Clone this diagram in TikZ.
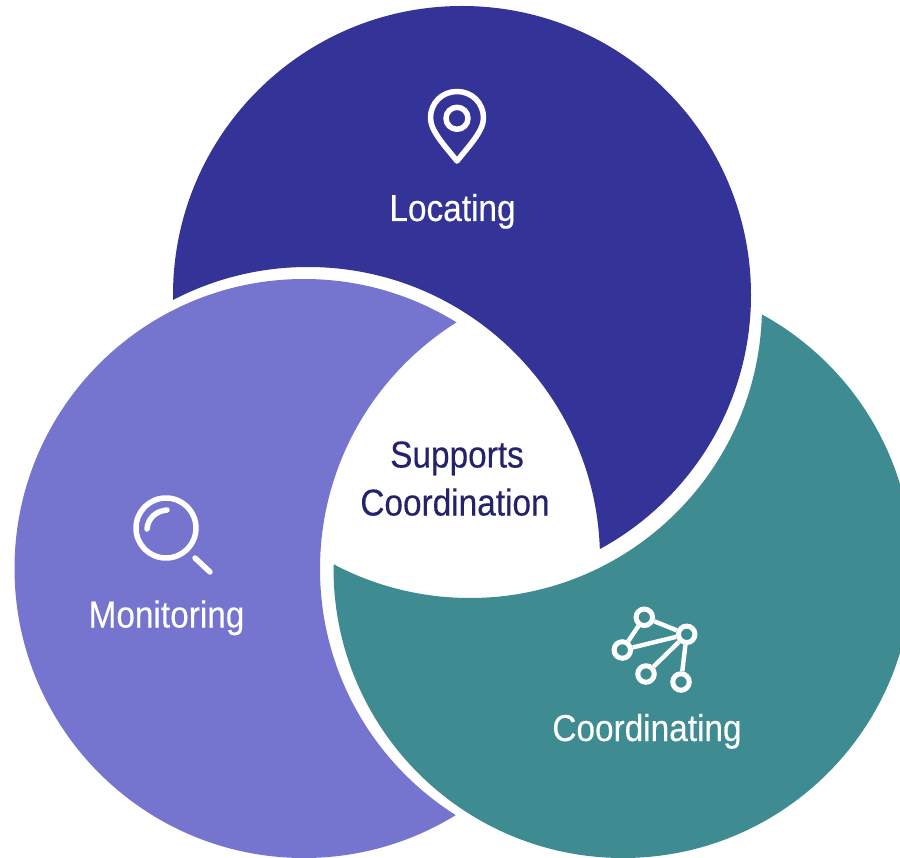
\documentclass[tikz,border=0pt]{standalone}
\usepackage{fontspec}
\setmainfont[FakeStretch=0.89,FakeBold=0.25]{Liberation Sans}
\definecolor{darkblue}{HTML}{343398}
\definecolor{lilac}{HTML}{7575CF}
\definecolor{tealc}{HTML}{3E8B92}
\definecolor{inktext}{HTML}{23226B}
\tikzset{
  lbl/.style={anchor=base,inner sep=0pt,text=white,font=\fontsize{37.5}{37.5}\selectfont},
  midlbl/.style={lbl,text=inktext},
  ico/.style={draw=white,line width=5.5pt,line cap=round,line join=round},
  dot/.style={circle,draw=white,line width=5pt,minimum size=16.5pt,inner sep=0pt},
  wire/.style={draw=white,line width=4.4pt}
}
\begin{document}
\begin{tikzpicture}[x=1pt,y=-1pt]
\useasboundingbox (0,0) rectangle (900,858);
\fill[white] (0,0) rectangle (900,858);
\clip (0,0) rectangle (900,858);
% top circle, cut by the left one
\begin{scope}[even odd rule]
\clip (-100,-100) rectangle (1100,1100) (308,559) circle[radius=292pt];
\fill[darkblue] (462,295) circle[radius=289pt];
\end{scope}
% left circle, cut by the right one
\begin{scope}[even odd rule]
\clip (-100,-100) rectangle (1100,1100) (611,569) circle[radius=291pt];
\fill[lilac] (304,568.5) circle[radius=289.5pt];
\end{scope}
% right circle, cut by the top one
\begin{scope}[even odd rule]
\clip (-100,-100) rectangle (1100,1100) (470,306) circle[radius=292pt];
\fill[tealc] (623,568.5) circle[radius=289.5pt];
\end{scope}
% labels
\node[lbl] (locating) at (452.5,221) {Locating};
\node[lbl] (monitoring) at (166.5,627.5) {Monitoring};
\node[lbl] (coordinating) at (647,741) {Coordinating};
\node[midlbl] (supports) at (457,467.5) {Supports};
\node[midlbl] (coordination) at (455,515.5) {Coordination};
% pin icon
\draw[ico] (457,161) .. controls (445,146) and (430.5,131) .. (430.5,118)
  .. controls (430.5,103) and (442,91.5) .. (457,91.5)
  .. controls (472,91.5) and (483.5,103) .. (483.5,118)
  .. controls (483.5,131) and (469,146) .. (457,161) -- cycle;
\draw[ico] (457,118.3) circle[radius=11pt];
% magnifier icon
\draw[ico] (166,528) circle[radius=30pt];
\draw[ico] (147,529) .. controls (148,518) and (156,511) .. (167,510);
\draw[ico] (195,558) -- (210,572);
% network icon
\node[dot] (na) at (644.3,617.3) {};
\node[dot] (nb) at (686.7,634.3) {};
\node[dot] (nc) at (622.3,650) {};
\node[dot] (nd) at (646,674) {};
\node[dot] (ne) at (681,682) {};
\draw[wire] (na) -- (nb);
\draw[wire] (na) -- (nc);
\draw[wire] (nc) -- (nb);
\draw[wire] (nd) -- (nb);
\draw[wire] (ne) -- (nb);
\end{tikzpicture}
\end{document}
